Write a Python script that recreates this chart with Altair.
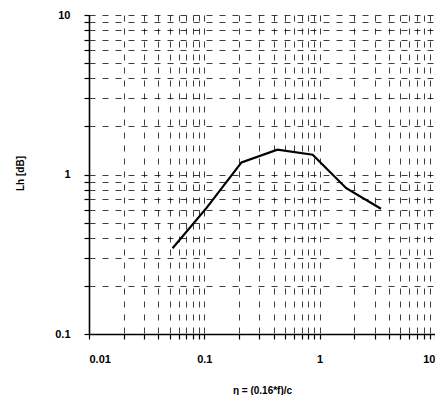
import altair as alt
import pandas as pd

# data
eta = [0.053, 0.105, 0.21, 0.43, 0.87, 1.7, 3.4]
lh = [0.345, 0.62, 1.19, 1.43, 1.33, 0.82, 0.61]

x_ticks = [round(m * 10 ** e, 6) for e in (-2, -1, 0) for m in range(1, 10)] + [10]
y_ticks = [round(m * 10 ** e, 6) for e in (-1, 0) for m in range(1, 10)] + [10]
x_labels = [0.01, 0.1, 1, 10]
y_labels = [0.1, 1, 10]

df = pd.DataFrame({"eta": eta, "lh": lh})

FONT = "Liberation Sans"

def label_expr(vals):
    return "indexof([" + ",".join(str(v) for v in vals) + "], datum.value) >= 0 ? format(datum.value, '~g') : ''"

common = dict(
    grid=True, gridDash=[6, 7], gridColor="black", gridWidth=0.9, gridOpacity=0.85,
    domainColor="black", domainWidth=1.6, tickColor="black", tickSize=5, tickWidth=1.2,
    labelFont=FONT, labelFontWeight="bold", labelFontSize=11, labelColor="black",
    labelPadding=14, labelOverlap=False,
    titleFont=FONT, titleFontWeight="bold", titleFontSize=10, titleColor="black",
)

chart = alt.Chart(df).mark_line(color="black", strokeWidth=2.2).encode(
    x=alt.X("eta:Q",
            scale=alt.Scale(type="log", domain=[0.01, 10], nice=False),
            axis=alt.Axis(values=x_ticks, labelExpr=label_expr(x_labels),
                          title="η = (0.16*f)/c", titleY=56, titleBaseline="middle",
                          **common)),
    y=alt.Y("lh:Q",
            scale=alt.Scale(type="log", domain=[0.1, 10], nice=False),
            axis=alt.Axis(values=y_ticks, labelExpr=label_expr(y_labels),
                          title="Lh [dB]", titleX=-69, titleY=158, titleAngle=270,
                          titleAlign="center", titleBaseline="middle",
                          **common)),
).properties(
    width=346, height=319,
    autosize=alt.AutoSizeParams(type="none"),
    padding={"left": 81, "top": 7, "right": 0, "bottom": 61},
    background="white",
).configure_view(stroke=None)

chart.save("out.html", embed_options={"renderer": "svg", "actions": False})
